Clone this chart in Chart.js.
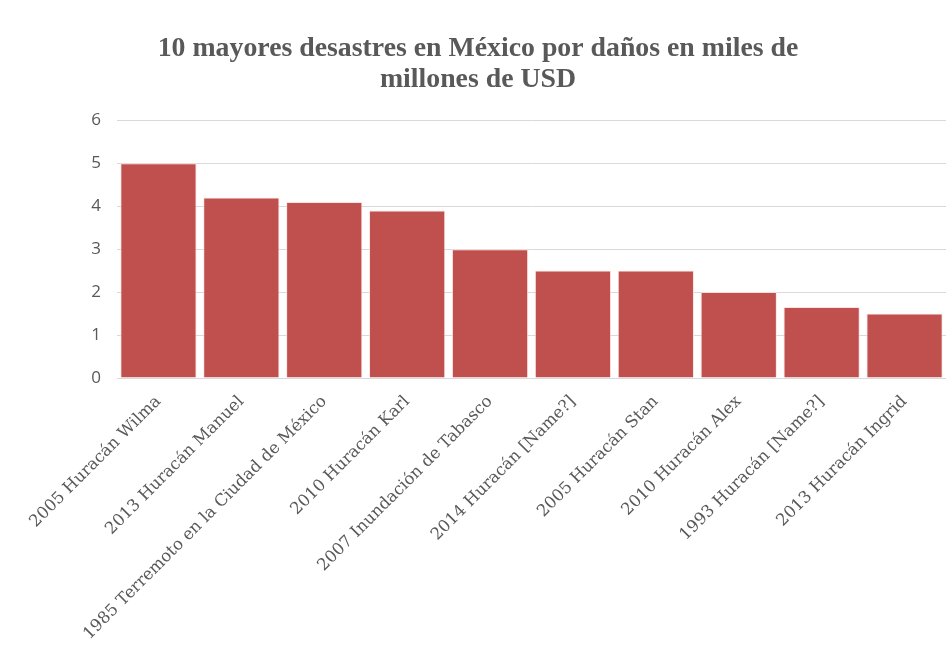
<!DOCTYPE html>
<html><head><meta charset="utf-8">
<script src="https://cdn.jsdelivr.net/npm/chart.js@4"></script>
<style>html,body{margin:0;padding:0;background:#fff}#wrap{width:946px;height:660px}</style>
</head><body><div id="wrap"><canvas id="c"></canvas></div>
<script>
const titleLines = ["10 mayores desastres en México por daños en miles de", "millones de USD"];
const categories = ["2005 Huracán Wilma","2013 Huracán Manuel","1985 Terremoto en la Ciudad de México","2010 Huracán Karl","2007 Inundación de Tabasco","2014 Huracán [Name?]","2005 Huracán Stan","2010 Huracán Alex","1993 Huracán [Name?]","2013 Huracán Ingrid"];
const damages = [5.0, 4.2, 4.1, 3.9, 3.0, 2.5, 2.5, 2.0, 1.65, 1.5];
const yTicks = [0,1,2,3,4,5,6];

new Chart(document.getElementById('c'), {
  type: 'bar',
  data: { labels: categories, datasets: [{ data: damages, backgroundColor: '#C0504D', borderColor: 'rgba(255,220,220,0.8)', borderWidth: 1, barPercentage: 0.92, categoryPercentage: 1 }] },
  options: {
    responsive: true, maintainAspectRatio: false, animation: false,
    layout: { padding: { left: 10, right: 0, top: 33, bottom: 0 } },
    plugins: {
      legend: { display: false }, tooltip: { enabled: false },
      title: { display: true, text: titleLines, color: '#595959', font: { family: 'Liberation Serif', size: 27.8, weight: 'bold', lineHeight: 1.12 }, padding: { top: 0, bottom: 25 } }
    },
    scales: {
      x: {
        grid: { display: false }, border: { display: false },
        ticks: { color: '#595959', font: { family: 'DejaVu Serif', size: 16.5 }, maxRotation: 45, minRotation: 45, autoSkip: false, padding: 6 },
        afterFit: (s) => { s.height = 282; }
      },
      y: {
        min: 0, max: 6,
        afterBuildTicks: (s) => { s.ticks = yTicks.map(v => ({ value: v })); },
        grid: { color: '#d9d9d9', drawTicks: false, lineWidth: 1 }, border: { display: false },
        ticks: { color: '#595959', font: { family: 'Open Sans', size: 17 }, padding: 16 },
        afterFit: (s) => { s.width = 107; }
      }
    }
  }
});
</script></body></html>
